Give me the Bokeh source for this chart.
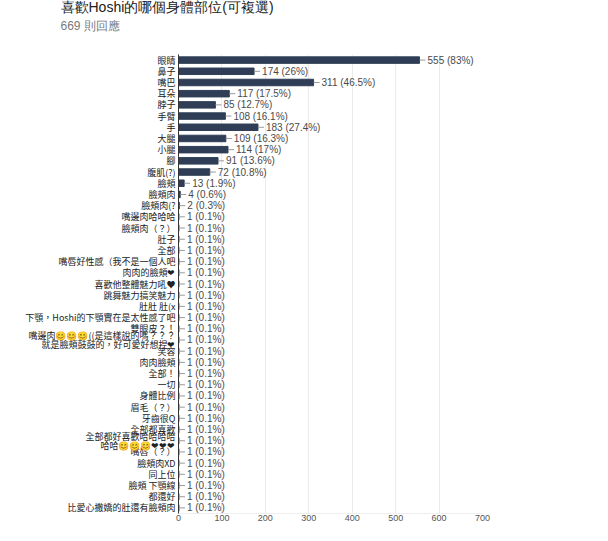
from bokeh.plotting import figure
from bokeh.models import Title, FixedTicker, ColumnDataSource
from bokeh.core.properties import value
from bokeh.embed import file_html
from bokeh.resources import INLINE

title_text = "喜歡Hoshi的哪個身體部位(可複選)"
subtitle_text = "669 則回應"
total_responses = 669

categories = [
    "眼睛", "鼻子", "嘴巴", "耳朵", "脖子", "手臂", "手", "大腿", "小腿", "腳",
    "腹肌(?)", "臉頰", "臉頰肉", "臉頰肉(?", "嘴邊肉哈哈哈", "臉頰肉（？）", "肚子", "全部",
    "嘴唇好性感（我不是一個人吧", "肉肉的臉頰❤", "喜歡他整體魅力吼♥", "跳舞魅力搞笑魅力",
    "肚肚 肚(x", "下顎，Hoshi的下顎實在是太性感了吧", "雙眼皮？！",
    "嘴邊肉😊😊😊((是這樣說的嗎？？？\n就是臉頰鼓鼓的，好可愛好想捏❤",
    "笑容", "肉肉臉頰", "全部！", "一切", "身體比例", "眉毛（？）", "牙齒很Q", "全部都喜歡",
    "全部都好喜歡哈哈哈哈\n哈哈😊😊😊❤❤❤",
    "嘴唇（？）", "臉頰肉XD", "同上位", "臉頰 下顎線", "都還好", "比愛心撒嬌的肚還有臉頰肉",
]
counts = [555, 174, 311, 117, 85, 108, 183, 109, 114, 91, 72, 13, 4, 2] + [1] * 27
x_ticks = [0, 100, 200, 300, 400, 500, 600, 700]


def fmt(c):
    pct = round(c / total_responses * 100, 1)
    return f"{c} ({pct:g}%)"


src = ColumnDataSource(dict(cat=categories, count=counts, lbl=[fmt(c) for c in counts]))

p = figure(
    title=None,
    y_range=list(reversed(categories)), x_range=(0, 700),
    width=592, height=525, output_backend="svg", toolbar_location=None,
    min_border_left=178, min_border_right=110, min_border_top=53, min_border_bottom=12,
)
p.outline_line_color = None
p.background_fill_color = "white"

bar_color = "#2f3e56"
p.hbar(y="cat", left=0, right="count", height=0.58, color=bar_color, source=src)
p.ray(x="count", y="cat", length=6, length_units="screen", angle=0,
      line_color="#9a9a9a", line_width=1, source=src)
p.text(x="count", y="cat", text="lbl", x_offset=8, text_baseline="middle", text_align="left",
       text_font_size="10px", text_color="#4a4a4a", text_font=value("Liberation Sans"), source=src)

p.xaxis.ticker = FixedTicker(ticks=x_ticks)
p.xaxis.axis_line_color = "#eeeeee"
p.xaxis.major_tick_line_color = None
p.xaxis.major_tick_out = 0
p.xaxis.major_tick_in = 0
p.xaxis.minor_tick_line_color = None
p.xaxis.major_label_standoff = 1
p.xaxis.major_label_text_font_size = "9px"
p.xaxis.major_label_text_color = "#555555"
p.xaxis.major_label_text_font = "Liberation Sans"

p.yaxis.axis_line_color = "#333333"
p.yaxis.major_tick_line_color = None
p.yaxis.major_tick_out = 0
p.yaxis.major_tick_in = 0
p.yaxis.minor_tick_line_color = None
p.yaxis.major_label_standoff = 3
p.yaxis.major_label_text_font_size = "9px"
p.yaxis.major_label_text_color = "#222222"
p.yaxis.major_label_text_font = "Noto Sans CJK TC"
p.yaxis.major_label_text_line_height = 0.7

p.xgrid.ticker = FixedTicker(ticks=x_ticks)
p.xgrid.grid_line_color = "#ebebeb"
p.ygrid.grid_line_color = None

# spacer between the plot area and the header texts
p.add_layout(Title(text=" ", standoff=11.4, text_font_size="1px", text_font="Liberation Sans"), "above")
p.add_layout(Title(text=subtitle_text, align="left", offset=-118, standoff=12.2,
                   text_font_size="12px", text_color="#7a7a7a", text_font_style="normal",
                   text_font="Liberation Sans"), "above")
p.add_layout(Title(text=title_text, align="left", offset=-118, standoff=-7.2,
                   text_font_size="14px", text_color="#212121", text_font_style="normal",
                   text_font="Liberation Sans"), "above")

open("out.html", "w").write(file_html(p, INLINE))
